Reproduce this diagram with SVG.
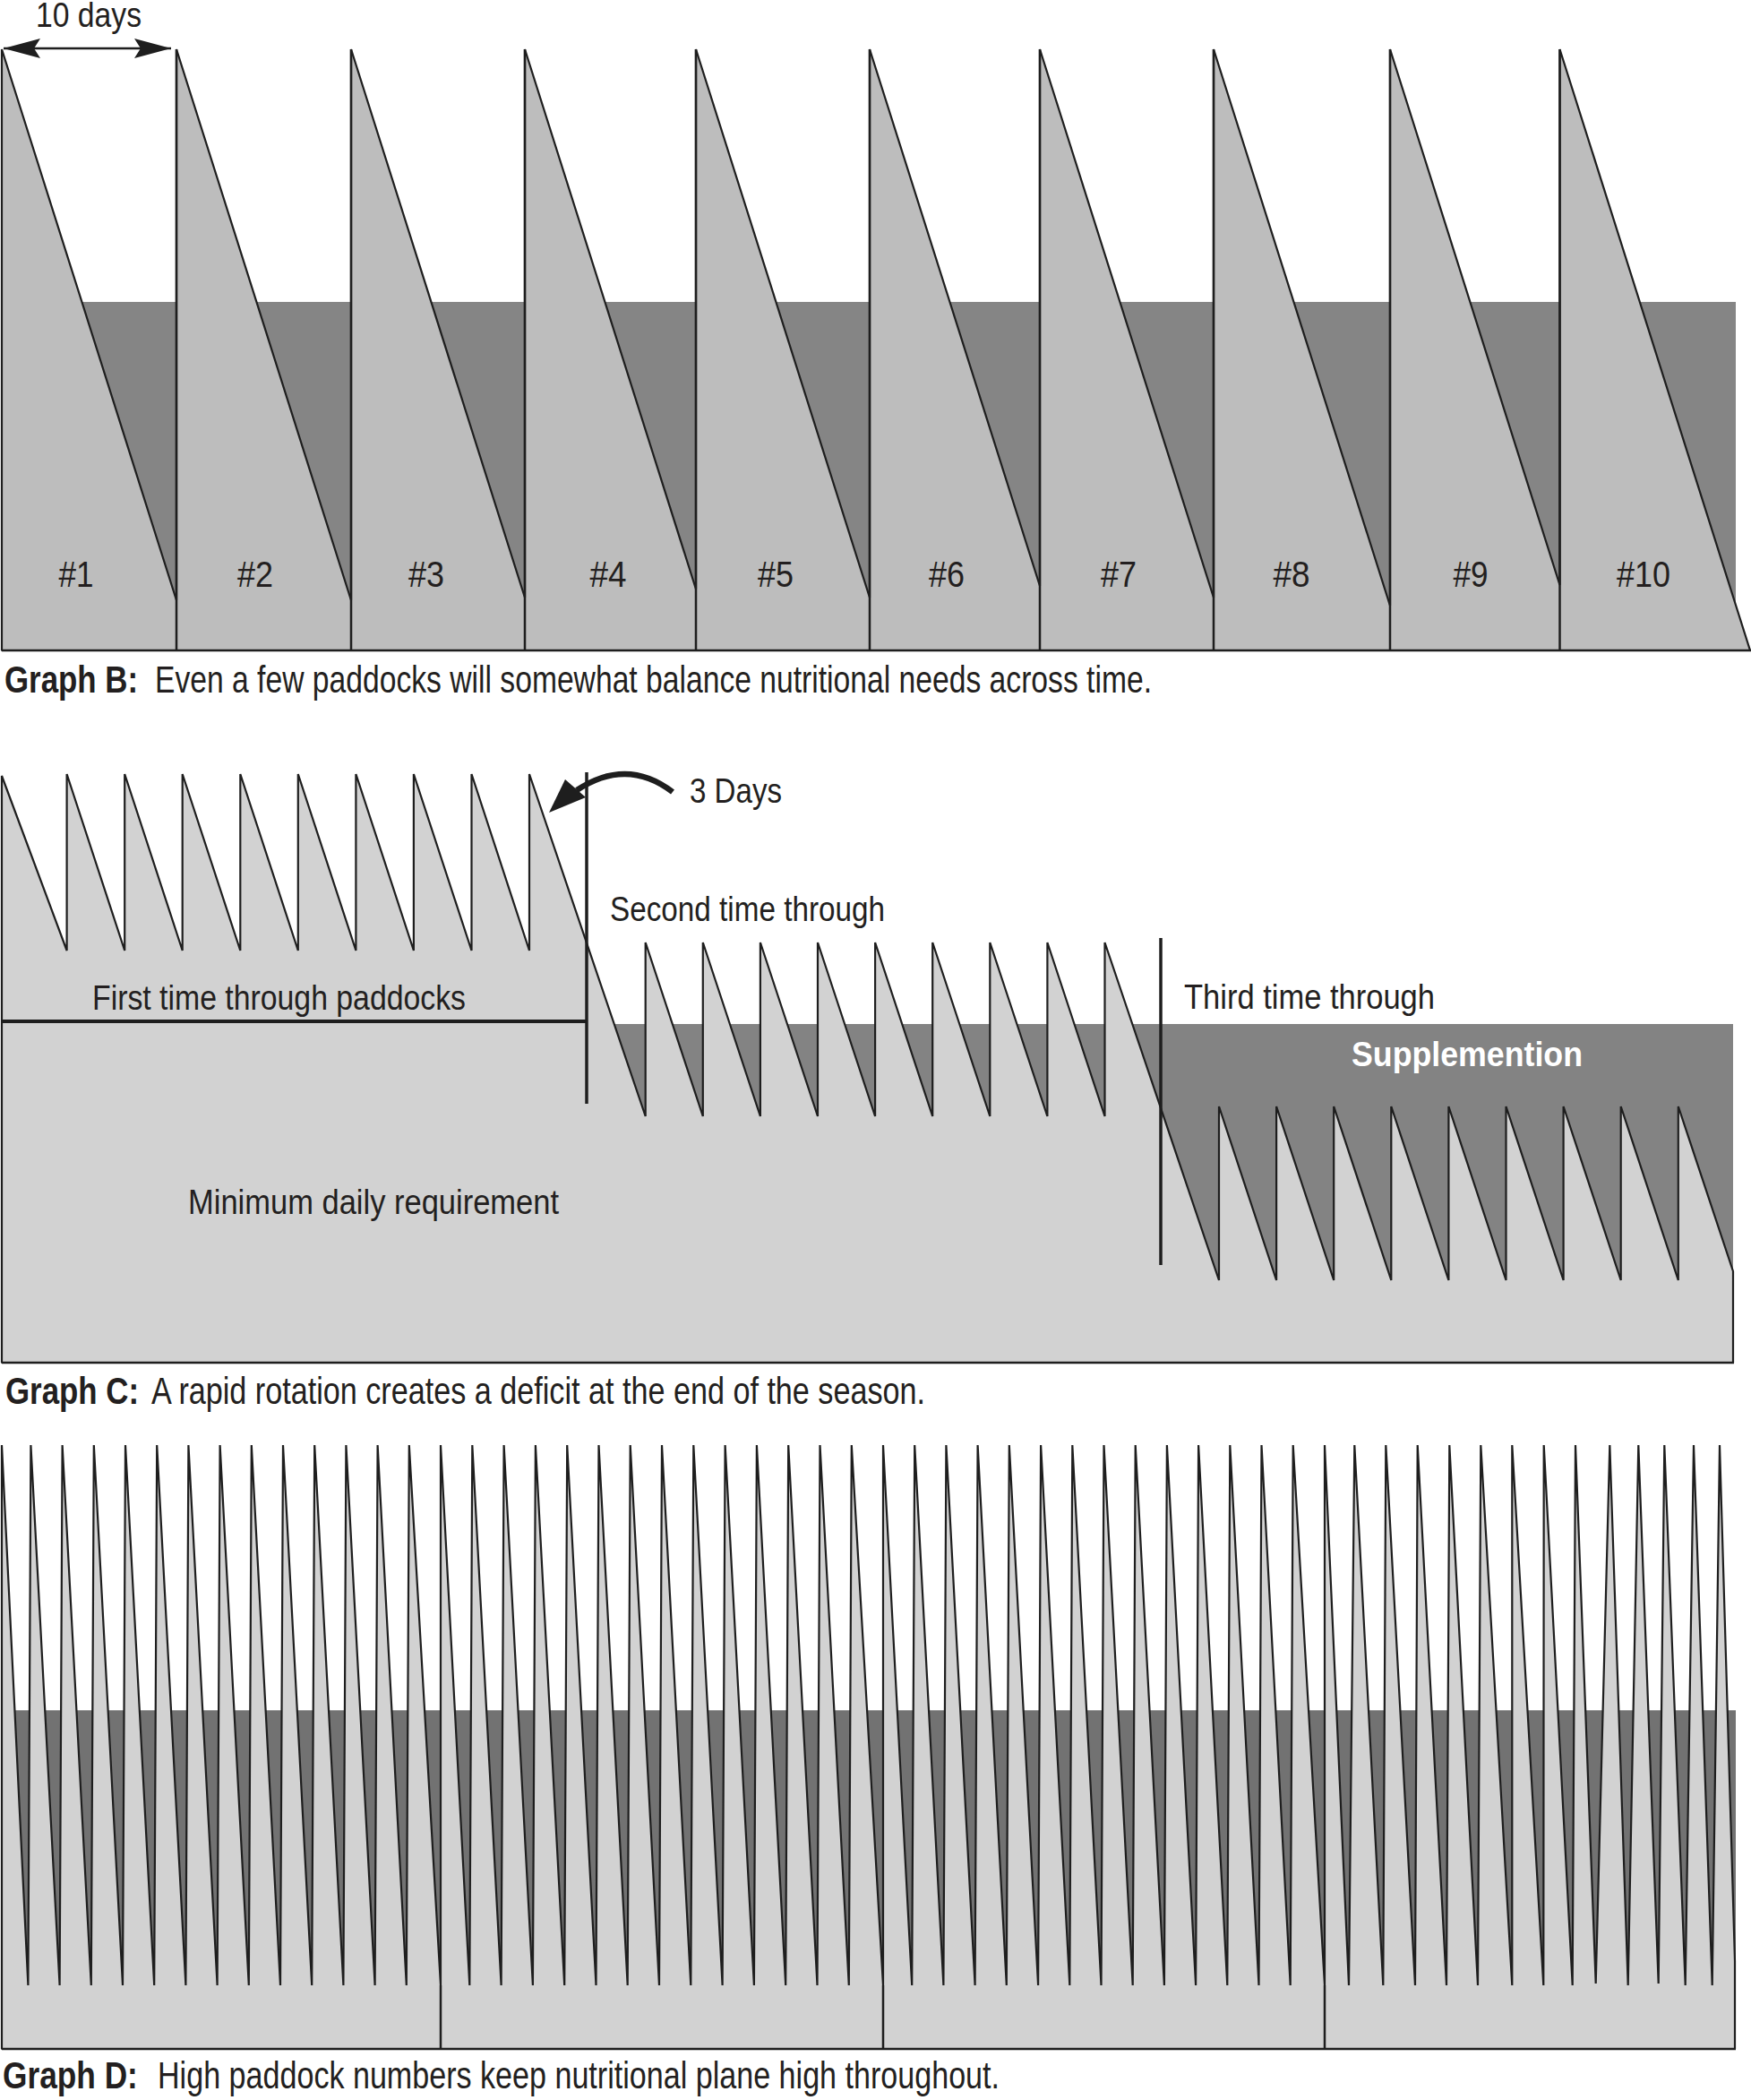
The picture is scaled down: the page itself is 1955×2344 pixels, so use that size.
<svg xmlns="http://www.w3.org/2000/svg" width="1955" height="2344" viewBox="0 0 1955 2344">
<style>
  text { font-family: "Liberation Sans", "DejaVu Sans", Arial, sans-serif; fill: #231f20; }
  .cap { font-size: 42px; }
  .b { font-weight: bold; }
  .lbl { font-size: 38px; }
  .num { font-size: 40px; text-anchor: middle; }
  .ln { stroke: #1e1e1e; fill: none; }
  .saw { stroke: #1e1e1e; stroke-width: 2.2; stroke-linejoin: bevel; }
  .lightB { fill: #bdbdbd; }
  .lightCD { fill: #d2d2d2; }
  .darkB { fill: #858585; }
  .darkC { fill: #838383; }
  .darkD { fill: #727272; }
</style>
<defs>
  <marker id="ah" markerUnits="userSpaceOnUse" markerWidth="42" markerHeight="24" viewBox="0 0 42 24" refX="41" refY="12" orient="auto-start-reverse">
    <path d="M0,1 L41,12 L0,23 L7,12 Z" fill="#1e1e1e"/>
  </marker>
</defs>
<rect x="0" y="0" width="1955" height="2344" fill="#ffffff"/>

<!-- GRAPH B -->
<g id="graph-b">
  <rect class="darkB" x="2" y="337" width="1936" height="389"/>
  <path class="lightB saw" stroke-width="2.5" d="M2,726 L2,55 L197,670 L197,55 L392,670 L392,55 L586,667 L586,55 L777,657.5 L777,55 L971,667 L971,55 L1161,654 L1161,55 L1355,667 L1355,55 L1552,676 L1552,55 L1741.5,653 L1741.5,55 L1954,726 Z"/>
  <g id="b-dividers" class="ln" stroke-width="2.5">
    <line x1="197" y1="55" x2="197" y2="726"/>
    <line x1="392" y1="55" x2="392" y2="726"/>
    <line x1="586" y1="55" x2="586" y2="726"/>
    <line x1="777" y1="55" x2="777" y2="726"/>
    <line x1="971" y1="55" x2="971" y2="726"/>
    <line x1="1161" y1="55" x2="1161" y2="726"/>
    <line x1="1355" y1="55" x2="1355" y2="726"/>
    <line x1="1552" y1="55" x2="1552" y2="726"/>
    <line x1="1741.5" y1="55" x2="1741.5" y2="726"/>
    <line x1="2" y1="726" x2="1955" y2="726"/>
  </g>
  <g id="b-span">
    <line class="ln" stroke-width="2.5" x1="4" y1="54" x2="191" y2="54" marker-start="url(#ah)" marker-end="url(#ah)"/>
    <text class="lbl" x="40" y="30" font-size="34" textLength="118" lengthAdjust="spacingAndGlyphs">10 days</text>
  </g>
  <g id="b-labels">
    <text class="num" x="85" y="655" textLength="39" lengthAdjust="spacingAndGlyphs">#1</text>
    <text class="num" x="285" y="655" textLength="40" lengthAdjust="spacingAndGlyphs">#2</text>
    <text class="num" x="476" y="655" textLength="40" lengthAdjust="spacingAndGlyphs">#3</text>
    <text class="num" x="679" y="655" textLength="41" lengthAdjust="spacingAndGlyphs">#4</text>
    <text class="num" x="866" y="655" textLength="40" lengthAdjust="spacingAndGlyphs">#5</text>
    <text class="num" x="1057" y="655" textLength="40" lengthAdjust="spacingAndGlyphs">#6</text>
    <text class="num" x="1249" y="655" textLength="40" lengthAdjust="spacingAndGlyphs">#7</text>
    <text class="num" x="1442" y="655" textLength="41" lengthAdjust="spacingAndGlyphs">#8</text>
    <text class="num" x="1642" y="655" textLength="39" lengthAdjust="spacingAndGlyphs">#9</text>
    <text class="num" x="1835" y="655" textLength="60" lengthAdjust="spacingAndGlyphs">#10</text>
  </g>
  <g id="b-caption">
    <text class="cap b" transform="translate(5,773) scale(0.83,1)">Graph B:</text>
    <text class="cap" x="173" y="773" textLength="1113" lengthAdjust="spacingAndGlyphs">Even a few paddocks will somewhat balance nutritional needs across time.</text>
  </g>
</g>

<!-- GRAPH C -->
<g id="graph-c">
  <rect class="darkC" x="655" y="1143" width="1280" height="378"/>
  <path class="lightCD saw" d="M2,1521 L2,866 L74.6,1061 L74.6,864 L139.2,1061 L139.2,864 L203.7,1061 L203.7,864 L268.3,1061 L268.3,864 L332.8,1061 L332.8,864 L397.4,1061 L397.4,864 L461.9,1061 L461.9,864 L526.5,1061 L526.5,864 L591,1061 L591,864 L720.7,1246 L720.7,1052 L784.8,1246 L784.8,1052 L848.9,1246 L848.9,1052 L913,1246 L913,1052 L977.1,1246 L977.1,1052 L1041.2,1246 L1041.2,1052 L1105.3,1246 L1105.3,1052 L1169.4,1246 L1169.4,1052 L1233.5,1246 L1233.5,1052 L1361,1429 L1361,1235 L1425.1,1429 L1425.1,1235 L1489.2,1429 L1489.2,1235 L1553.3,1429 L1553.3,1235 L1617.4,1429 L1617.4,1235 L1681.5,1429 L1681.5,1235 L1745.6,1429 L1745.6,1235 L1809.7,1429 L1809.7,1235 L1873.8,1429 L1873.8,1235 L1935,1419 L1935,1521 Z"/>
  <line class="ln" stroke-width="2.5" x1="2" y1="1521" x2="1936" y2="1521"/>
  <g id="c-markers" class="ln">
    <line stroke-width="4" x1="2" y1="1140" x2="655" y2="1140"/>
    <line stroke-width="3.5" x1="655" y1="862" x2="655" y2="1232"/>
    <line stroke-width="3.5" x1="1296" y1="1047" x2="1296" y2="1412"/>
  </g>
  <g id="c-arrow">
    <path class="ln" stroke-width="6.5" d="M751,884 Q700,845 644,882"/>
    <polygon points="613,907 631,870 654,890" fill="#1e1e1e"/>
  </g>
  <g id="c-labels">
    <text class="lbl" x="770" y="896" textLength="103" lengthAdjust="spacingAndGlyphs">3 Days</text>
    <text class="lbl" x="681" y="1028" textLength="307" lengthAdjust="spacingAndGlyphs">Second time through</text>
    <text class="lbl" x="103" y="1127" textLength="417" lengthAdjust="spacingAndGlyphs">First time through paddocks</text>
    <text class="lbl" x="1322" y="1126" textLength="280" lengthAdjust="spacingAndGlyphs">Third time through</text>
    <text class="lbl b" x="1509" y="1190" style="fill:#ffffff" textLength="258" lengthAdjust="spacingAndGlyphs">Supplemention</text>
    <text class="lbl" x="210" y="1355" textLength="414" lengthAdjust="spacingAndGlyphs">Minimum daily requirement</text>
  </g>
  <g id="c-caption">
    <text class="cap b" transform="translate(6,1567) scale(0.83,1)">Graph C:</text>
    <text class="cap" x="169" y="1567" textLength="864" lengthAdjust="spacingAndGlyphs">A rapid rotation creates a deficit at the end of the season.</text>
  </g>
</g>

<!-- GRAPH D -->
<g id="graph-d">
  <rect class="darkD" x="2" y="1909" width="1936" height="378"/>
  <path class="lightCD saw" d="M2,2287 L2,1613
   L31.4,2216 L34.4,1613 L66.6,2216 L69.6,1613 L101.8,2216 L104.8,1613 L137,2216 L140,1613 L172.2,2216 L175.2,1613 L207.4,2216 L210.4,1613 L242.6,2216 L245.6,1613 L277.8,2216 L280.8,1613 L313,2216 L316,1613 L348.2,2216 L351.2,1613 L383.4,2216 L386.4,1613 L418.6,2216 L421.6,1613 L453.8,2216 L456.8,1613 L492,2216 L492,1613
   L524.3,2216 L527.3,1613 L559.6,2216 L562.6,1613 L594.9,2216 L597.9,1613 L630.2,2216 L633.2,1613 L665.5,2216 L668.5,1613 L700.7,2216 L703.7,1613 L736,2216 L739,1613 L771.3,2216 L774.3,1613 L806.6,2216 L809.6,1613 L841.9,2216 L844.9,1613 L877.2,2216 L880.2,1613 L912.5,2216 L915.5,1613 L947.8,2216 L950.8,1613 L986,2216 L986,1613
   L1018.2,2216 L1021.2,1613 L1053.4,2216 L1056.4,1613 L1088.6,2216 L1091.6,1613 L1123.8,2216 L1126.8,1613 L1159.1,2216 L1162.1,1613 L1194.3,2216 L1197.3,1613 L1229.5,2216 L1232.5,1613 L1264.7,2216 L1267.7,1613 L1299.9,2216 L1302.9,1613 L1335.1,2216 L1338.1,1613 L1370.3,2216 L1373.3,1613 L1405.5,2216 L1408.5,1613 L1440.7,2216 L1443.7,1613 L1479,2216 L1479,1613
   L1506,2216 L1512.3,1613 L1544.3,2216 L1547.3,1613 L1580,2216 L1582.7,1613 L1615,2216 L1618.3,1613 L1650,2216 L1653.3,1613 L1688.3,2216 L1688.3,1613 L1723.3,2216 L1723.7,1613 L1755.7,2216 L1759,1613 L1781.7,2214 L1797.3,1613 L1817.7,2216 L1829.3,1613 L1851.7,2214 L1858.3,1613 L1881.7,2216 L1891,1613 L1911.7,2216 L1920,1613 L1937,2189 L1937,2287 Z"/>
  <g id="d-dividers" class="ln" stroke-width="2.5">
    <line x1="492" y1="2216" x2="492" y2="2287"/>
    <line x1="986" y1="2216" x2="986" y2="2287"/>
    <line x1="1479" y1="2216" x2="1479" y2="2287"/>
    <line x1="2" y1="2287" x2="1938" y2="2287"/>
  </g>
  <g id="d-caption">
    <text class="cap b" transform="translate(3,2331) scale(0.84,1)">Graph D:</text>
    <text class="cap" x="176" y="2331" textLength="940" lengthAdjust="spacingAndGlyphs">High paddock numbers keep nutritional plane high throughout.</text>
  </g>
</g>
</svg>
